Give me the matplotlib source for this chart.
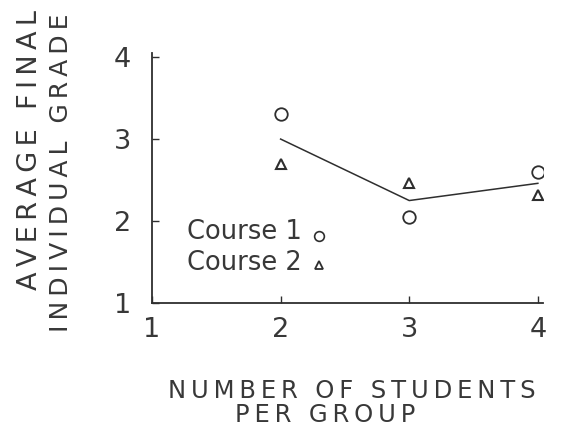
import numpy as np
import matplotlib
matplotlib.use("Agg")
import matplotlib.pyplot as plt

# group size vs. average final individual grade
group_size = [2, 3, 4]
course1 = [3.3, 2.05, 2.6]
course2 = [2.7, 2.46, 2.32]
mean_grade = [3.0, 2.25, 2.46]

x_ticks = [1, 2, 3, 4]
y_ticks = [1, 2, 3, 4]

ink = "#2e2e2e"
txt = "#383838"
plt.rcParams["font.family"] = "DejaVu Sans"


def spaced(s, gap="\u2009"):
    # letter-spaced caption text
    return gap.join(s)


fig = plt.figure(figsize=(5.61, 4.34), dpi=100)
ax = fig.add_axes([152 / 561, 131 / 434, 391 / 561, 250 / 434])

ax.plot(group_size, mean_grade, color=ink, lw=1.1)
ax.plot(group_size, course1, ls="none", marker="o", ms=9, mfc="white",
        mec=ink, mew=1.3)
ax.plot(group_size, course2, ls="none", marker="^", ms=7, mfc="white",
        mec=ink, mew=1.5)

ax.set_xlim(1, 4.04)
ax.set_ylim(1, 4.05)
ax.set_xticks(x_ticks)
ax.set_yticks(y_ticks)
ax.tick_params(direction="in", length=5, width=1, color=ink,
               labelsize=19.5, labelcolor=txt)
ax.tick_params(axis="x", pad=10)
ax.tick_params(axis="y", pad=15)
for side in ["top", "right"]:
    ax.spines[side].set_visible(False)
for side in ["left", "bottom"]:
    ax.spines[side].set_color(ink)
    ax.spines[side].set_linewidth(1.3)

# hand-made key inside the plot
ax.text(1.27, 1.87, "Course 1", fontsize=18.5, color=txt, va="center")
ax.text(1.27, 1.49, "Course 2", fontsize=18.5, color=txt, va="center")
ax.plot([2.3], [1.82], marker="o", ms=7, mfc="white", mec=ink, mew=1.2,
        clip_on=False)
ax.plot([2.3], [1.46], marker="^", ms=6, mfc="white", mec=ink, mew=1.3,
        clip_on=False)

# axis captions
fig.text(30 / 561, 1 - 10 / 434, spaced("AVERAGE FINAL"), rotation=90,
         fontsize=19.5, color=txt, ha="center", va="top")
fig.text(61 / 561, 1 - 14 / 434, spaced("INDIVIDUAL GRADE"), rotation=90,
         fontsize=18, color=txt, ha="center", va="top")
fig.text(352 / 561, 1 - 391 / 434, spaced("NUMBER OF STUDENTS"),
         fontsize=17.5, color=txt, ha="center", va="center")
fig.text(325 / 561, 1 - 415 / 434, spaced("PER GROUP"),
         fontsize=17.5, color=txt, ha="center", va="center")

fig.savefig("out.png", dpi=100, facecolor="white")
